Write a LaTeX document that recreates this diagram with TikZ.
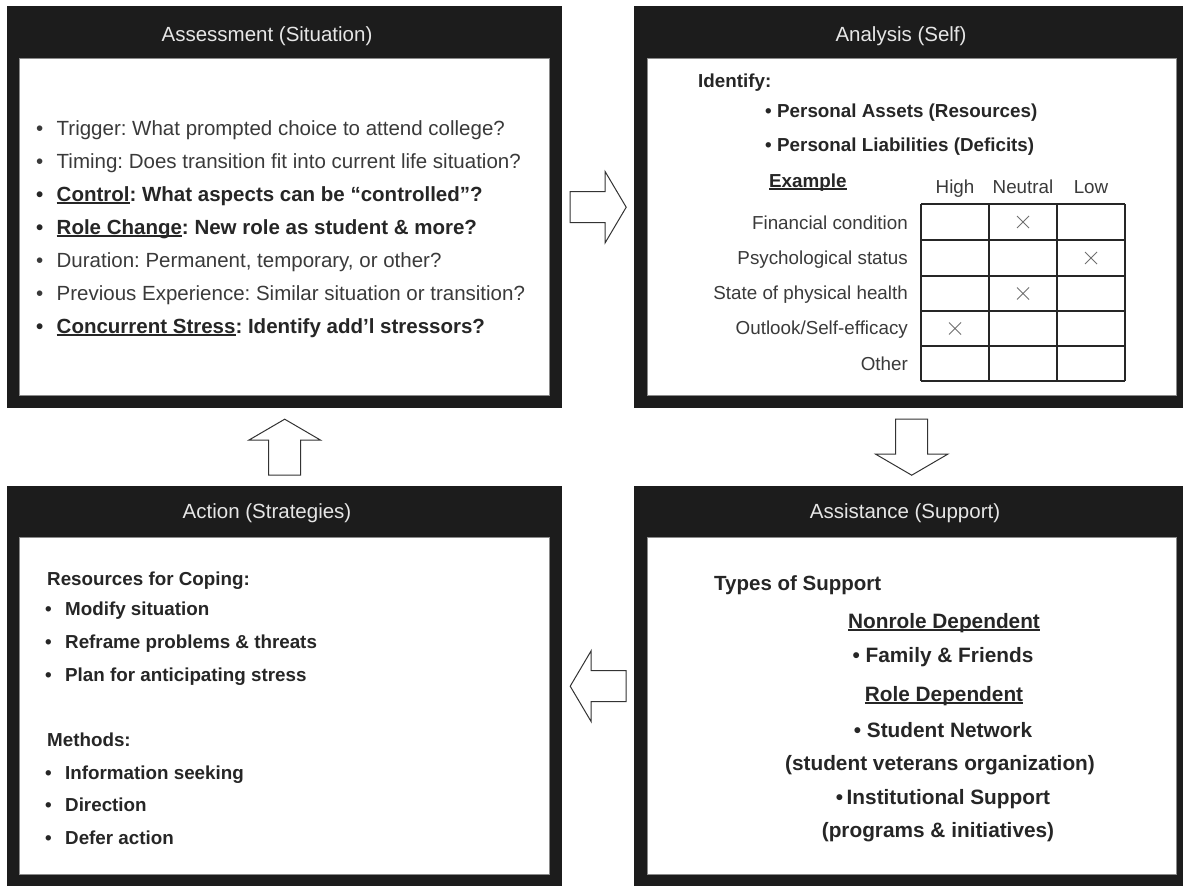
\documentclass[tikz,border=0pt]{standalone}
\usepackage{fontspec}
\setmainfont{Liberation Sans}
\usetikzlibrary{calc}
\definecolor{panelblack}{HTML}{1C1C1C}
\definecolor{txtb}{HTML}{262626}
\definecolor{txtr}{HTML}{3A3A3A}
\definecolor{headtxt}{HTML}{E6E6E6}
\definecolor{innerline}{HTML}{8A8A8A}
\definecolor{xmark}{HTML}{707070}
\definecolor{arrowline}{HTML}{333333}
\frenchspacing
\newcommand\fsHead{\fontsize{20.5}{24}\selectfont}
\newcommand\fsA{\fontsize{20.5}{24}\selectfont}
\newcommand\fsB{\fontsize{18.8}{22}\selectfont}
\newcommand\fsC{\fontsize{20.8}{24}\selectfont}
\newcommand\myul[1]{\setbox0\hbox{#1}\rlap{\rule[-2.6pt]{\wd0}{1.3pt}}\box0}
\newcommand\bul[1]{\makebox[#1][l]{•}}
\tikzset{
  panel/.style={fill=panelblack, draw=none, inner sep=0pt, anchor=north west},
  innerbox/.style={fill=white, draw=innerline, line width=0.8pt, inner sep=0pt, anchor=north west},
  head/.style={text=headtxt, font=\fsHead, inner sep=0pt, anchor=base},
  regA/.style={text=txtr, font=\fsA, inner sep=0pt, anchor=base west},
  boldA/.style={text=txtb, font=\fsA\bfseries, inner sep=0pt, anchor=base west},
  regB/.style={text=txtr, font=\fsB, inner sep=0pt, anchor=base west},
  boldB/.style={text=txtb, font=\fsB\bfseries, inner sep=0pt, anchor=base west},
  boldC/.style={text=txtb, font=\fsC\bfseries, inner sep=0pt, anchor=base},
  blockarrow/.style={draw=arrowline, line width=1pt, fill=white, line join=miter},
  gridline/.style={draw=txtb, line width=1.4pt},
  xm/.style={draw=xmark, line width=0.9pt},
}
\begin{document}
\begin{tikzpicture}[x=1pt,y=-1pt]
\useasboundingbox (0,0) rectangle (1183,886);
\fill[white] (0,0) rectangle (1183,886);

% panels
\node[panel, minimum width=555pt, minimum height=402pt] (assess) at (7,6) {};
\node[panel, minimum width=549pt, minimum height=402pt] (analysis) at (634,6) {};
\node[panel, minimum width=555pt, minimum height=400pt] (action) at (7,486) {};
\node[panel, minimum width=549pt, minimum height=400pt] (assist) at (634,486) {};
\node[innerbox, minimum width=530pt, minimum height=337pt] (assessIn) at (19,58) {};
\node[innerbox, minimum width=529pt, minimum height=337pt] (analysisIn) at (647,58) {};
\node[innerbox, minimum width=530pt, minimum height=337pt] (actionIn) at (19,537) {};
\node[innerbox, minimum width=529pt, minimum height=337pt] (assistIn) at (647,537) {};

% headers
\node[head] (assessH) at (267,41) {Assessment (Situation)};
\node[head] (analysisH) at (901,41) {Analysis (Self)};
\node[head] (actionH) at (267,518) {Action (Strategies)};
\node[head] (assistH) at (905,518) {Assistance (Support)};

% arrows
\coordinate (ra) at ($(assess.east)!0.5!(analysis.west)$);
\coordinate (la) at ($(action.east)!0.5!(assist.west)$);
\coordinate (ua) at ($(assess.south)!0.5!(action.north)$);
\coordinate (da) at ($(analysis.south)!0.5!(assist.north)+(3,0)$);
\draw[blockarrow, shift={(ra)}] (-28,-15.5) -- (7,-15.5) -- (7,-35.5) -- (28,0) -- (7,35.5) -- (7,15.5) -- (-28,15.5) -- cycle;
\draw[blockarrow, shift={(la)}] (28,-15.5) -- (-7,-15.5) -- (-7,-35.5) -- (-28,0) -- (-7,35.5) -- (-7,15.5) -- (28,15.5) -- cycle;
\draw[blockarrow, shift={(da)}] (-16,-28) -- (-16,7) -- (-36,7) -- (0,28) -- (36,7) -- (16,7) -- (16,-28) -- cycle;
\draw[blockarrow, shift={(ua)}] (-16,28) -- (-16,-7) -- (-36,-7) -- (0,-28) -- (36,-7) -- (16,-7) -- (16,28) -- cycle;

% Assessment content
\node[regA] (a1) at (36,135) {\bul{20.5pt}Trigger: What prompted choice to attend college?};
\node[regA] (a2) at (36,168) {\bul{20.5pt}Timing: Does transition fit into current life situation?};
\node[boldA] (a3) at (36,201) {\bul{20.5pt}\myul{Control}: What aspects can be “controlled”?};
\node[boldA] (a4) at (36,234) {\bul{20.5pt}\myul{Role Change}: New role as student \& more?};
\node[regA] (a5) at (36,267) {\bul{20.5pt}Duration: Permanent, temporary, or other?};
\node[regA] (a6) at (36,300) {\bul{20.5pt}Previous Experience: Similar situation or transition?};
\node[boldA] (a7) at (36,333) {\bul{20.5pt}\myul{Concurrent Stress}: Identify add’l stressors?};

% Analysis content
\node[boldB] (b1) at (698,87) {Identify:};
\node[boldB] (b2) at (765,117.5) {\bul{12pt}Personal Assets (Resources)};
\node[boldB] (b3) at (765,151.5) {\bul{12pt}Personal Liabilities (Deficits)};
\node[boldB] (b4) at (769,187) {\myul{Example}};
\node[regB, anchor=base] (hHigh) at (955,193) {High};
\node[regB, anchor=base] (hNeu) at (1023,193) {Neutral};
\node[regB, anchor=base] (hLow) at (1091,193) {Low};
\node[regB, anchor=base east] (r1) at (908,229) {Financial condition};
\node[regB, anchor=base east] (r2) at (908,264) {Psychological status};
\node[regB, anchor=base east] (r3) at (908,299) {State of physical health};
\node[regB, anchor=base east] (r4) at (908,334) {Outlook/Self-efficacy};
\node[regB, anchor=base east] (r5) at (908,370) {Other};
\foreach \x in {921,989,1057,1125} \draw[gridline] (\x,204) -- (\x,381);
\foreach \y in {204,240,276,311,346,381} \draw[gridline] (921,\y) -- (1125,\y);
\foreach \cx/\cy in {1023/222, 1091/258, 1023/293.5, 955/328.5}
  \draw[xm] (\cx-6,\cy-6) -- (\cx+6,\cy+6) (\cx-6,\cy+6) -- (\cx+6,\cy-6);

% Action content
\node[boldB] (c1) at (47,585) {Resources for Coping:};
\node[boldB] (c2) at (45,615.5) {\bul{20pt}Modify situation};
\node[boldB] (c3) at (45,648.5) {\bul{20pt}Reframe problems \& threats};
\node[boldB] (c4) at (45,681) {\bul{20pt}Plan for anticipating stress};
\node[boldB] (c5) at (47,746.5) {Methods:};
\node[boldB] (c6) at (45,779) {\bul{20pt}Information seeking};
\node[boldB] (c7) at (45,811.5) {\bul{20pt}Direction};
\node[boldB] (c8) at (45,844) {\bul{20pt}Defer action};

% Assistance content
\node[boldA] (d1) at (714,590) {Types of Support};
\node[boldC] (d2) at (944,628) {\myul{Nonrole Dependent}};
\node[boldC] (d3) at (943,662) {• Family \& Friends};
\node[boldC] (d4) at (944,701) {\myul{Role Dependent}};
\node[boldC] (d5) at (943,737) {• Student Network};
\node[boldC] (d6) at (940,770) {(student veterans organization)};
\node[boldC] (d7) at (943,804) {•\,Institutional Support};
\node[boldC] (d8) at (938,837) {(programs \& initiatives)};
\end{tikzpicture}
\end{document}
